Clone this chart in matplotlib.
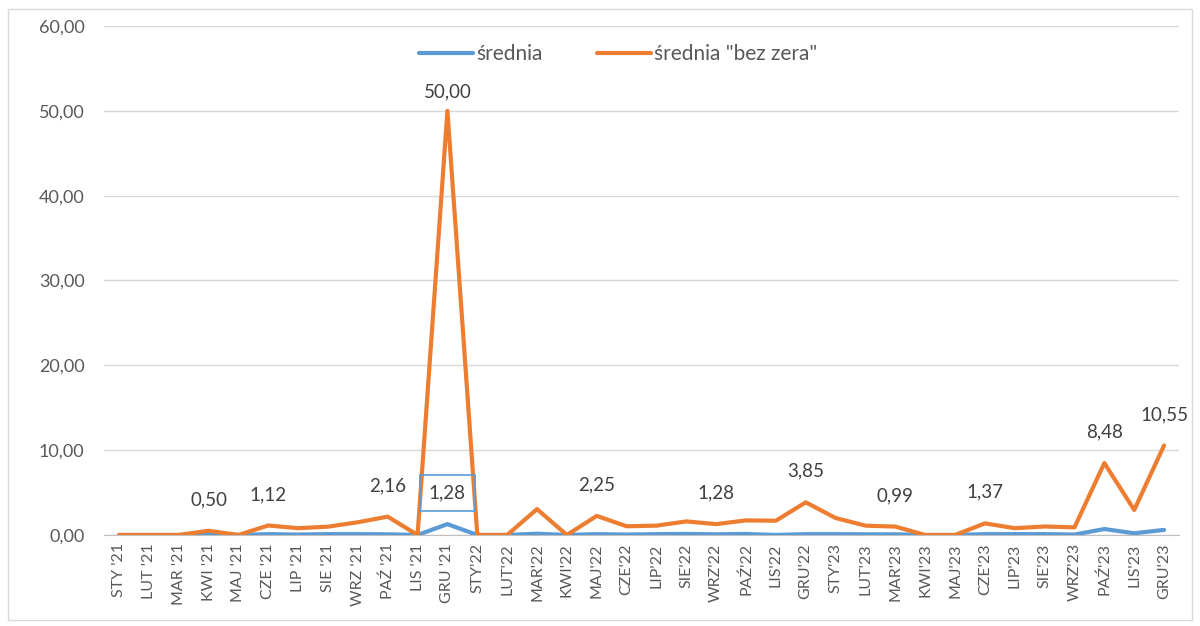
import matplotlib.pyplot as plt
from matplotlib.patches import Rectangle

plt.rcParams['font.family'] = ['Lato', 'DejaVu Sans']

months = ["STY '21", "LUT '21", "MAR '21", "KWI '21", "MAJ '21", "CZE '21", "LIP '21",
          "SIE '21", "WRZ '21", "PAŹ '21", "LIS '21", "GRU '21",
          "STY'22", "LUT'22", "MAR'22", "KWI'22", "MAJ'22", "CZE'22", "LIP'22",
          "SIE'22", "WRZ'22", "PAŹ'22", "LIS'22", "GRU'22",
          "STY'23", "LUT'23", "MAR'23", "KWI'23", "MAJ'23", "CZE'23", "LIP'23",
          "SIE'23", "WRZ'23", "PAŹ'23", "LIS'23", "GRU'23"]

srednia = [0.0, 0.0, 0.0, 0.08, 0.0, 0.1, 0.05, 0.1, 0.1, 0.08, 0.0, 1.28,
           0.0, 0.0, 0.15, 0.0, 0.1, 0.05, 0.1, 0.12, 0.08, 0.12, 0.0, 0.1,
           0.1, 0.08, 0.08, 0.0, 0.0, 0.1, 0.1, 0.1, 0.05, 0.7, 0.2, 0.6]

bez_zera = [0.0, 0.0, 0.0, 0.50, 0.0, 1.12, 0.8, 0.98, 1.5, 2.16, 0.0, 50.0,
            0.0, 0.0, 3.05, 0.0, 2.25, 1.03, 1.1, 1.6, 1.28, 1.72, 1.68, 3.85,
            2.0, 1.1, 0.99, 0.0, 0.0, 1.37, 0.8, 1.0, 0.9, 8.48, 2.95, 10.55]

# which points carry a data label
labels_bez_zera = [3, 5, 9, 11, 16, 20, 23, 26, 29, 33, 35]
labels_srednia = [11]

blue = '#5B9BD5'
orange = '#ED7D31'
grey_txt = '#595959'

fig = plt.figure(figsize=(12, 6.26), dpi=100)
fig.patches.append(Rectangle((0.007, 0.01), 0.986, 0.975, transform=fig.transFigure,
                             fill=False, edgecolor='#D9D9D9', linewidth=1))
ax = fig.add_axes([0.0867, 0.1454, 0.8958, 0.8131])

x = range(len(months))
ax.plot(x, srednia, color=blue, lw=3, label='średnia', solid_capstyle='round', zorder=3)
ax.plot(x, bez_zera, color=orange, lw=3, label='średnia "bez zera"', solid_capstyle='round', zorder=3)

def fmt(v):
    return f"{v:.2f}".replace('.', ',')

for i in labels_bez_zera:
    off = 19 if bez_zera[i] > 40 else 31
    ax.annotate(fmt(bez_zera[i]), (i, bez_zera[i]), xytext=(0, off), textcoords='offset pixels',
                ha='center', va='center', fontsize=13.5, color='#404040')

for i in labels_srednia:
    ax.annotate(fmt(srednia[i]), (i, srednia[i]), xytext=(0, 31), textcoords='offset pixels',
                ha='center', va='center', fontsize=13.5, color='#404040',
                bbox=dict(boxstyle='square,pad=0.5', facecolor='none', edgecolor=blue, lw=1.2))

ax.set_xlim(-0.5, len(months) - 0.5)
ax.set_ylim(0, 60)
ax.set_yticks(range(0, 61, 10))
ax.set_yticklabels([fmt(v) for v in range(0, 61, 10)])
ax.set_xticks(list(x))
ax.set_xticklabels(months, rotation=90)
ax.tick_params(axis='y', length=0, pad=14, labelsize=13, labelcolor=grey_txt)
ax.tick_params(axis='x', length=0, pad=6, labelsize=11.5, labelcolor=grey_txt)
ax.grid(axis='y', color='#D9D9D9', lw=1)
ax.set_axisbelow(True)
for s in ['top', 'right', 'left']:
    ax.spines[s].set_visible(False)
ax.spines['bottom'].set_color('#BFBFBF')

fig.legend(loc='center', bbox_to_anchor=(0.515, 0.913), ncol=2, frameon=False,
           fontsize=15, labelcolor=grey_txt, handlelength=2.6, handletextpad=0.15,
           columnspacing=2.6)

fig.savefig('out.png', dpi=100)
